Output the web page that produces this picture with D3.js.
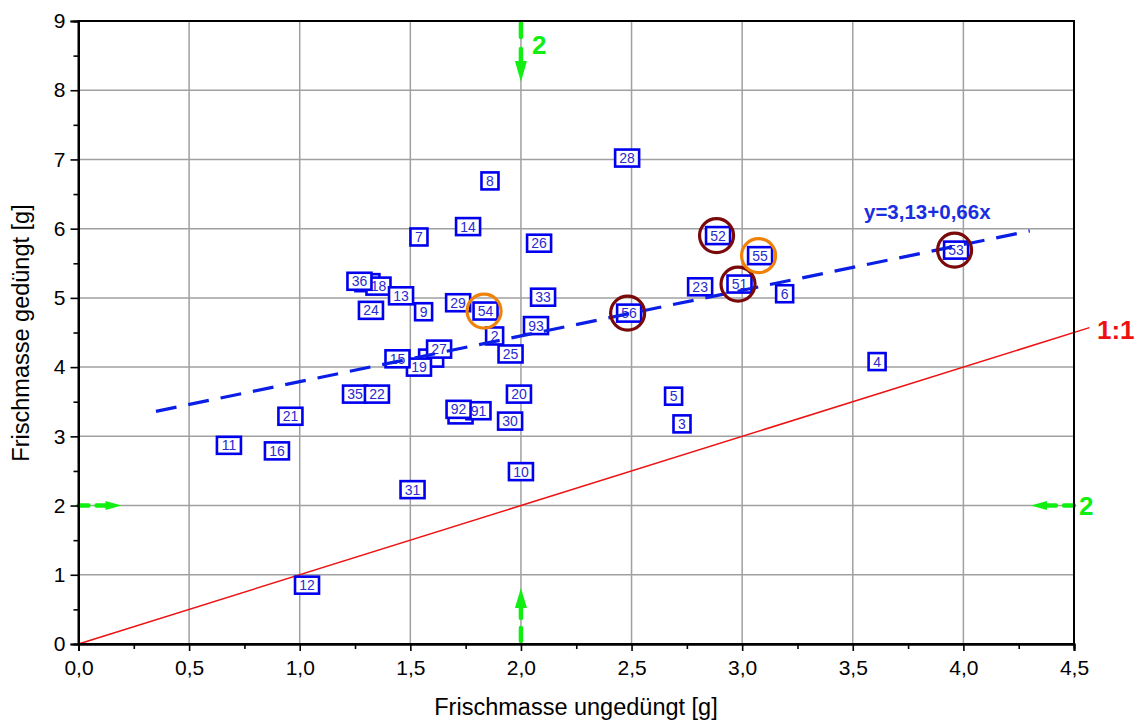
<!DOCTYPE html>
<html><head><meta charset="utf-8">
<script src="https://cdn.jsdelivr.net/npm/d3@7"></script>
<style>body{margin:0;background:#fff}svg{display:block;font-family:"Liberation Sans",Arial,sans-serif}</style>
</head><body><svg id="c" width="1144" height="722"></svg>
<script>
// ---- data ----
const labels = ["28","8","14","7","26","52","55","53","","18","36","13","24","9","29","54","33","93","2","25","","27","19","15","35","22","21","11","16","","91","92","30","20","31","10","12","5","3","4","23","51","6","56"];
const xVals  = [2.480,1.860,1.761,1.539,2.082,2.891,3.081,3.967,1.306,1.356,1.270,1.458,1.322,1.560,1.716,1.840,2.100,2.068,1.881,1.953,1.594,1.630,1.539,1.442,1.250,1.349,0.958,0.680,0.897,1.727,1.808,1.718,1.951,1.991,1.510,2.000,1.033,2.690,2.728,3.610,2.810,2.988,3.192,2.489];
const yVals  = [7.02,6.69,6.03,5.88,5.79,5.90,5.61,5.69,5.22,5.17,5.24,5.03,4.82,4.80,4.93,4.81,5.01,4.60,4.45,4.19,4.13,4.26,4.00,4.12,3.61,3.61,3.29,2.87,2.79,3.31,3.37,3.39,3.22,3.61,2.23,2.49,0.85,3.58,3.18,4.08,5.16,5.20,5.06,4.78];
const darkRedCircled = ["52","51","56","53"];
const orangeCircled = ["54","55"];
const regIntercept = 3.13, regSlope = 0.66;
const regRange = [0.35, 4.3];
const xTicks = [0,0.5,1.0,1.5,2.0,2.5,3.0,3.5,4.0,4.5];
const yTicks = [0,1,2,3,4,5,6,7,8,9];
const xTitle = "Frischmasse ungedüngt [g]";
const yTitle = "Frischmasse gedüngt [g]";
const eqLabel = "y=3,13+0,66x";

// ---- layout ----
const L=78.5, R=1074, T=21, B=644;
const svg = d3.select("#c");
const x = d3.scaleLinear().domain([0,4.5]).range([L,R]);
const y = d3.scaleLinear().domain([0,9]).range([B,T]);
const fmt = d => d3.format(".1f")(d).replace(".",",");

// grid
svg.append("g").selectAll("line").data(xTicks.slice(1,-1)).join("line")
  .attr("x1",d=>x(d)).attr("x2",d=>x(d)).attr("y1",T).attr("y2",B)
  .attr("stroke","#a0a0a0").attr("stroke-width",1.5);
svg.append("g").selectAll("line").data(yTicks.slice(1,-1)).join("line")
  .attr("x1",L).attr("x2",R).attr("y1",d=>y(d)).attr("y2",d=>y(d))
  .attr("stroke","#a0a0a0").attr("stroke-width",1.5);

// 1:1 line
svg.append("line").attr("x1",x(0)).attr("y1",y(0)).attr("x2",x(4.57)).attr("y2",y(4.57))
  .attr("stroke","#ee1111").attr("stroke-width",1.5);
svg.append("text").attr("x",1097).attr("y",339).attr("fill","#ee1111")
  .attr("font-size",26).attr("font-weight","bold").text("1:1");

// markers
const pts = labels.map((l,i)=>({l,x:xVals[i],y:yVals[i]}));
const mg = svg.append("g");
pts.forEach(p=>{
  const w = p.l.length===1 ? 17 : 24, h = 17;
  mg.append("rect").attr("x",x(p.x)-w/2).attr("y",y(p.y)-h/2).attr("width",w).attr("height",h)
    .attr("fill","#fff").attr("stroke","#0000ee").attr("stroke-width",2.6);
  if(p.l) mg.append("text").attr("x",x(p.x)).attr("y",y(p.y)+5).attr("text-anchor","middle")
    .attr("font-size",14).attr("fill","#2a2ad0").text(p.l);
});

// regression
svg.append("line").attr("x1",x(regRange[0])).attr("y1",y(regIntercept+regSlope*regRange[0]))
  .attr("x2",x(regRange[1])).attr("y2",y(regIntercept+regSlope*regRange[1]))
  .attr("stroke","#0a1ee6").attr("stroke-width",3.2).attr("stroke-dasharray","21,12");
svg.append("text").attr("x",864).attr("y",219).attr("fill","#1a2ee0").attr("font-size",20.5)
  .attr("font-weight","bold").text(eqLabel);

// circles
const circ = (list,col)=>svg.append("g").selectAll("circle").data(pts.filter(p=>list.includes(p.l))).join("circle")
  .attr("cx",d=>x(d.x)-1.5).attr("cy",d=>y(d.y)).attr("r",17)
  .attr("fill","none").attr("stroke",col).attr("stroke-width",3.2);
circ(darkRedCircled,"#7a0a0a");
circ(orangeCircled,"#f0820a");

// green arrows
const G="#11ee11";
const ag = svg.append("g").attr("stroke",G).attr("stroke-linecap","round").attr("fill",G);
function arrow(x0,y0,dx,dy,s1,s2,base,tip,hw){
  const seg=(a,b)=>ag.append("line").attr("x1",x0+dx*a).attr("y1",y0+dy*a).attr("x2",x0+dx*b).attr("y2",y0+dy*b).attr("stroke-width",4.5);
  seg(s1[0],s1[1]); seg(s2[0],s2[1]);
  const t=[x0+dx*tip,y0+dy*tip], b=[x0+dx*base,y0+dy*base];
  const px=-dy, py=dx;
  ag.append("path").attr("stroke","none").attr("d",`M${t[0]},${t[1]}L${b[0]+px*hw},${b[1]+py*hw}L${b[0]-px*hw},${b[1]-py*hw}Z`);
}
arrow(x(2),T,0,1,[2,16],[28,45],40,61,6);
arrow(x(2),B,0,-1,[3,16],[26,42],36,56,6);
arrow(L,y(2),1,0,[0,10],[18,30],27,43,4.5);
arrow(R,y(2),-1,0,[0,10],[18,30],27,43,4.5);
svg.append("text").attr("x",532).attr("y",54).attr("fill",G).attr("font-size",26).attr("font-weight","bold").text("2");
svg.append("text").attr("x",1079).attr("y",515).attr("fill",G).attr("font-size",26).attr("font-weight","bold").text("2");

// frame
svg.append("rect").attr("x",L).attr("y",T).attr("width",R-L).attr("height",B-T)
  .attr("fill","none").attr("stroke","#000").attr("stroke-width",2);

// axes
const xa = svg.append("g").attr("transform",`translate(0,${B})`)
  .call(d3.axisBottom(x).tickValues(xTicks).tickFormat(fmt).tickSize(7).tickPadding(9));
const xm = svg.append("g").attr("transform",`translate(0,${B})`)
  .call(d3.axisBottom(x).tickValues(xTicks.slice(0,-1).map(d=>d+0.25)).tickFormat("").tickSize(5));
const ya = svg.append("g").attr("transform",`translate(${L},0)`)
  .call(d3.axisLeft(y).tickValues(yTicks).tickFormat(d=>d).tickSize(8).tickPadding(5));
const ym = svg.append("g").attr("transform",`translate(${L},0)`)
  .call(d3.axisLeft(y).tickValues(yTicks.slice(0,-1).map(d=>d+0.5)).tickFormat("").tickSize(5));
[xa,xm,ya,ym].forEach(g=>{g.select(".domain").attr("stroke-width",2);g.selectAll(".tick line").attr("stroke-width",1.6);
  g.selectAll("text").attr("font-size",21).attr("font-family","Liberation Sans, Arial").attr("fill","#000");});

svg.append("text").attr("x",576).attr("y",715).attr("text-anchor","middle").attr("font-size",23.5).text(xTitle);
svg.append("text").attr("transform","translate(29,333) rotate(-90)").attr("text-anchor","middle").attr("font-size",23.5).text(yTitle);
</script></body></html>
